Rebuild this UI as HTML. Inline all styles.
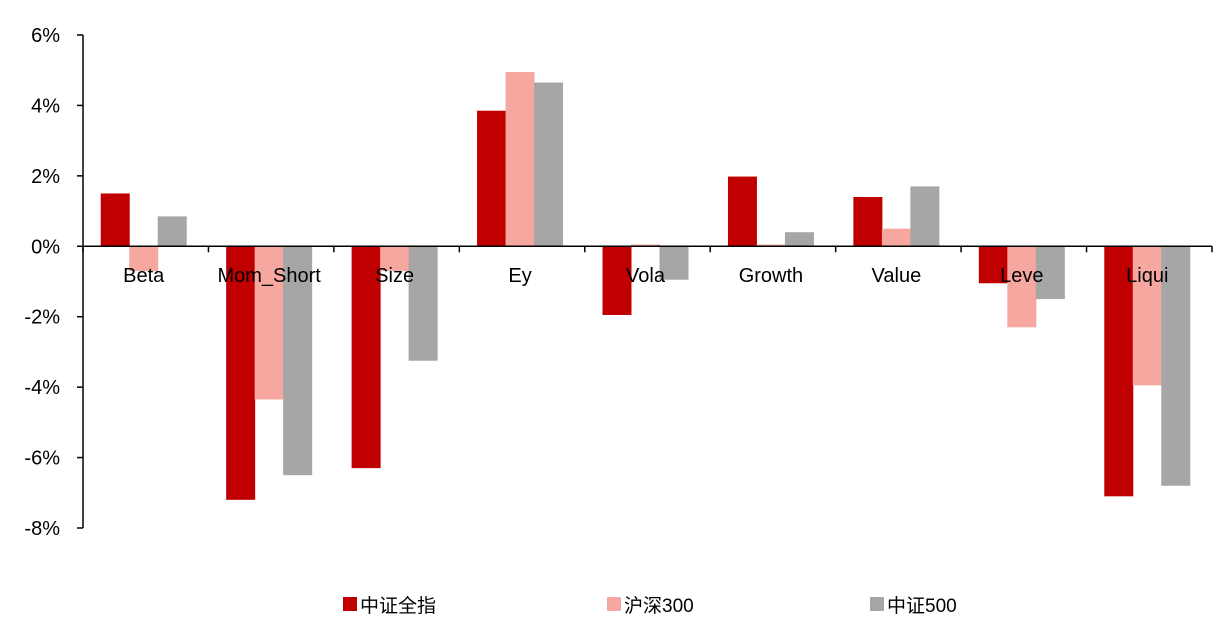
<!DOCTYPE html>
<html><head><meta charset="utf-8"><style>
body{margin:0;background:#fff;}
svg text{font-family:"Liberation Sans","Noto Sans CJK SC",sans-serif;fill:#000;}
</style></head><body>
<svg id="chart" width="1224" height="630" xmlns="http://www.w3.org/2000/svg"></svg>
<script>
const categories=["Beta","Mom_Short","Size","Ey","Vola","Growth","Value","Leve","Liqui"];
const seriesAll=[1.5,-7.2,-6.3,3.85,-1.95,1.98,1.4,-1.05,-7.1];
const series300=[-0.7,-4.35,-0.7,4.95,0.05,0.05,0.5,-2.3,-3.95];
const series500=[0.85,-6.5,-3.25,4.65,-0.95,0.4,1.7,-1.5,-6.8];
const seriesNames=["中证全指","沪深300","中证500"];
const yTicks=[6,4,2,0,-2,-4,-6,-8];
const yTickLabels=["6%","4%","2%","0%","-2%","-4%","-6%","-8%"];

const NS="http://www.w3.org/2000/svg";
const svg=document.getElementById('chart');
const x0=83,x1=1212,yTop=35,yBot=528;
const yMin=-8,yMax=6;
function y(v){return yTop+(yMax-v)/(yMax-yMin)*(yBot-yTop);}
const bandW=(x1-x0)/categories.length;
function xc(i){return x0+bandW*(i+0.5);}
function mk(tag,attrs){const e=document.createElementNS(NS,tag);for(const k in attrs)e.setAttribute(k,attrs[k]);svg.appendChild(e);return e;}
const colors=["#C00000","#F6A8A0","#A6A6A6"];
const all=[seriesAll,series300,series500];
const bw=29,step=28.5;
all.forEach((s,si)=>{
  s.forEach((v,i)=>{
    const bx=xc(i)-2+(si-1)*step-bw/2;
    const r=mk('rect',{x:bx,y:Math.min(y(v),y(0)),width:bw,height:Math.max(1,Math.abs(y(v)-y(0))),fill:colors[si]});
    
    
  });
});
let a=mk('line',{x1:x0,y1:yTop,x2:x0,y2:yBot,stroke:'#000','stroke-width':1.5});

a=mk('line',{x1:x0,y1:y(0),x2:x1,y2:y(0),stroke:'#000','stroke-width':1.5});

yTicks.forEach((t,i)=>{
  const l=mk('line',{x1:x0-6,y1:y(t),x2:x0,y2:y(t),stroke:'#000','stroke-width':1.5});
  
  const tx=mk('text',{x:60,y:y(t)+7,'text-anchor':'end','font-size':20});
  tx.textContent=yTickLabels[i];
  
});
for(let i=0;i<=categories.length;i++){
  const xx=x0+bandW*i;
  const l=mk('line',{x1:xx,y1:y(0),x2:xx,y2:y(0)+6,stroke:'#000','stroke-width':1.5});
  
}
categories.forEach((c,i)=>{
  const t=mk('text',{x:xc(i)-2,y:282,'text-anchor':'middle','font-size':20});
  t.textContent=c;
  
});
const lx=[343,607,870];
seriesNames.forEach((n,i)=>{
  const r=mk('rect',{x:lx[i],y:597,width:14,height:14,fill:colors[i]});
  
  const t=mk('text',{x:lx[i]+17,y:612,'font-size':19});
  t.textContent=n;
  
});
</script>
</body></html>
